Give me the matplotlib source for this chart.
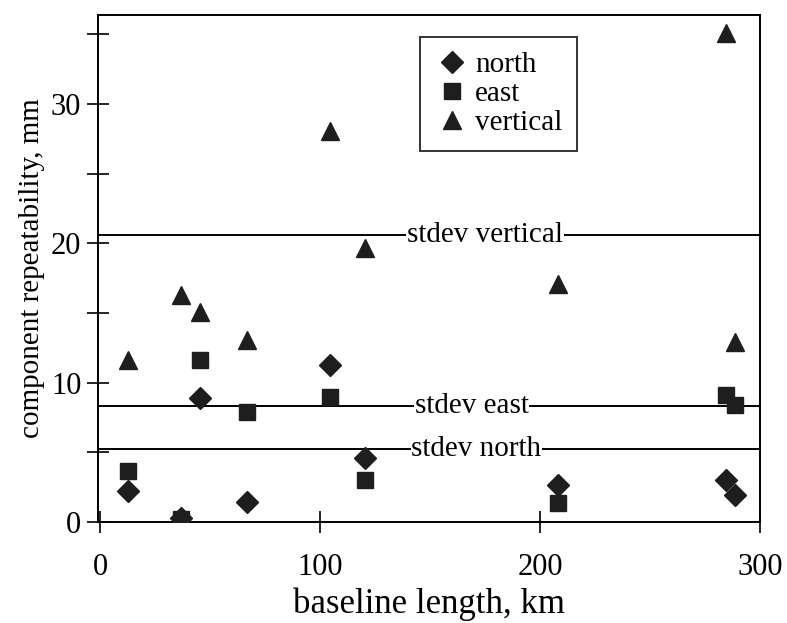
import matplotlib.pyplot as plt

# baseline lengths (km)
baseline = [12.5, 36.8, 45.5, 66.8, 104.5, 120.4, 208.0, 284.5, 288.7]

north = [2.25, 0.26, 8.9, 1.41, 11.3, 4.57, 2.66, 3.0, 1.94]
east = [3.7, 0.2, 11.6, 7.9, 9.0, 3.0, 1.34, 9.1, 8.4]
vertical = [11.6, 16.3, 15.1, 13.1, 28.1, 19.7, 17.1, 35.1, 12.9]

stdev_labels = ["stdev vertical", "stdev east", "stdev north"]
stdev_values = [20.6, 8.35, 5.25]
stdev_label_x = [175, 169, 171]

plt.rcParams["font.family"] = ["Liberation Serif", "DejaVu Serif"]

fig = plt.figure(figsize=(7.87, 6.23), dpi=100)
ax = fig.add_axes([0.1245, 0.162, 0.8412, 0.814])

mc = "#1e1e1e"
ax.plot(baseline, north, "D", color=mc, markersize=11, label="north", zorder=3)
ax.plot(baseline, east, "s", color=mc, markersize=11, label="east", zorder=3)
ax.plot(baseline, vertical, "^", color=mc, markersize=13, label="vertical", zorder=3)

for lab, val, tx in zip(stdev_labels, stdev_values, stdev_label_x):
    ax.axhline(val, color="black", lw=1.4, zorder=2)
    ax.text(tx, val, lab, fontsize=21, ha="center", va="center", zorder=4,
            bbox=dict(facecolor="white", edgecolor="none", pad=0.5))

ax.set_xlim(-1, 300)
ax.set_ylim(0, 36.4)
ax.set_xticks([0, 100, 200, 300])
ax.set_yticks([0, 5, 10, 15, 20, 25, 30, 35])
ax.set_yticklabels(["0", "", "10", "", "20", "", "30", ""])
ax.tick_params(axis="x", direction="inout", length=16, width=1.2,
               labelsize=22, pad=14)
ax.tick_params(axis="y", direction="inout", length=16, width=1.2,
               labelsize=22, pad=4)
for s in ax.spines.values():
    s.set_linewidth(1.4)

ax.set_xlabel("baseline length, km", fontsize=25, labelpad=4)
ax.set_ylabel("component repeatability, mm", fontsize=21, labelpad=4)

leg = ax.legend(loc="upper left", bbox_to_anchor=(0.486, 0.957), fontsize=21,
                frameon=True, fancybox=False, labelspacing=0.1,
                handletextpad=0.2, borderpad=0.5, handlelength=1.2,
                borderaxespad=0)
leg.get_frame().set_edgecolor("black")
leg.get_frame().set_linewidth(1.4)

fig.savefig("out.png", dpi=100)
